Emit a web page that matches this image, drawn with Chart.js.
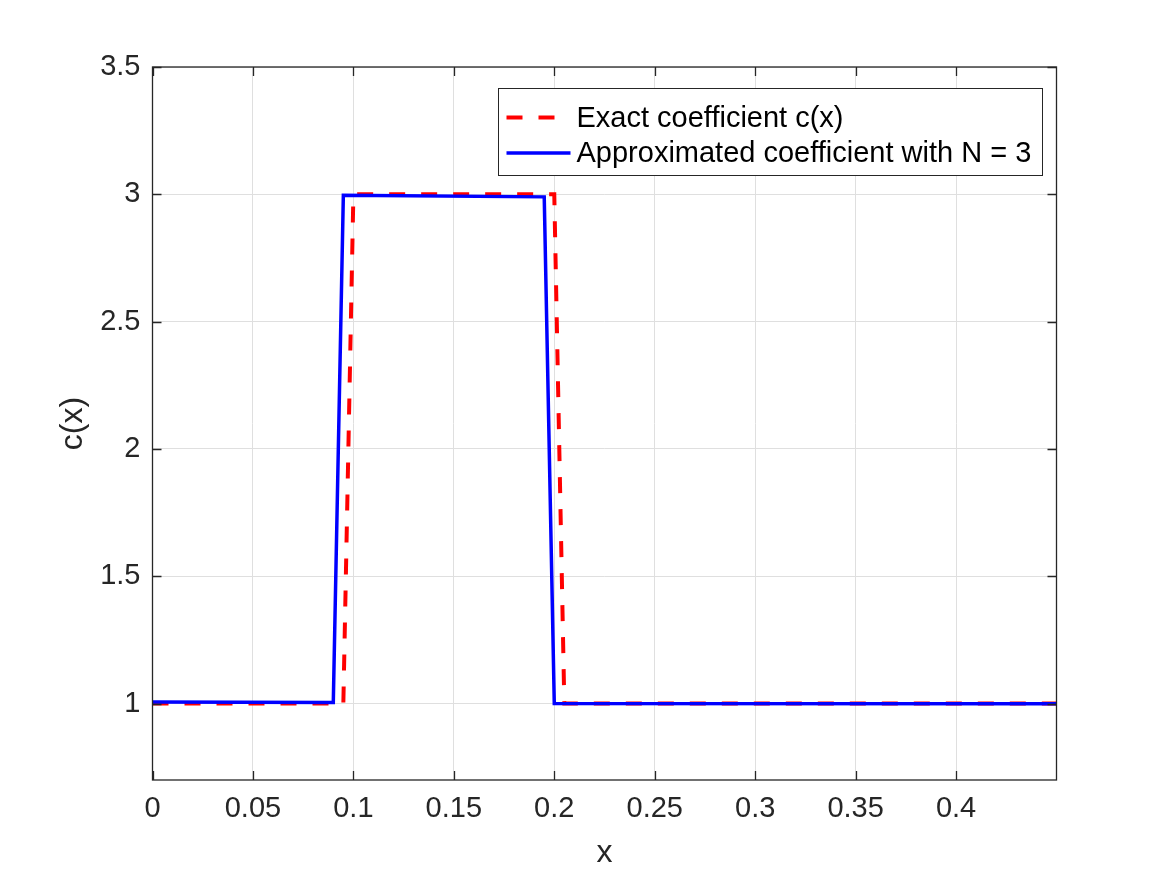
<!DOCTYPE html>
<html><head><meta charset="utf-8">
<script src="https://cdn.jsdelivr.net/npm/chart.js@4.4.1/dist/chart.umd.min.js"></script>
<style>html,body{margin:0;padding:0;background:#fff;overflow:hidden}#wrap{width:1167px;height:875px}</style>
</head><body><div id="wrap"><canvas id="c" width="1167" height="875"></canvas></div>
<script>
// ---- data ----
const xExact = [0, 0.095, 0.1, 0.2, 0.205, 0.45];
const yExact = [1, 1, 3, 3, 1, 1];
const xApprox = [0, 0.09, 0.095, 0.195, 0.2, 0.45];
const yApprox = [1.006, 1.004, 2.996, 2.99, 1.0, 0.999];
const xTicks = [0, 0.05, 0.1, 0.15, 0.2, 0.25, 0.3, 0.35, 0.4];
const yTicks = [1, 1.5, 2, 2.5, 3, 3.5];
const xTickLabels = ['0', '0.05', '0.1', '0.15', '0.2', '0.25', '0.3', '0.35', '0.4'];
const yTickLabels = ['1', '1.5', '2', '2.5', '3', '3.5'];
const seriesLabels = ['Exact coefficient c(x)', 'Approximated coefficient with N = 3'];
const xTitle = 'x';
const yTitle = 'c(x)';

const FONT = '"Liberation Sans", Arial, Helvetica, sans-serif';
const AXC = '#262626';

const framePlugin = {
  id: 'frame',
  afterDatasetsDraw(chart) {
    const {ctx, chartArea: a, scales} = chart;
    ctx.save();
    ctx.strokeStyle = AXC;
    ctx.lineWidth = 1.3;
    ctx.beginPath();
    const tl = 9;
    scales.x.ticks.forEach(t => {
      const px = Math.round(scales.x.getPixelForValue(t.value)) + 0.5;
      ctx.moveTo(px, a.bottom); ctx.lineTo(px, a.bottom - tl);
      ctx.moveTo(px, a.top); ctx.lineTo(px, a.top + tl);
    });
    scales.y.ticks.forEach(t => {
      const py = Math.round(scales.y.getPixelForValue(t.value)) + 0.5;
      ctx.moveTo(a.left, py); ctx.lineTo(a.left + tl, py);
      ctx.moveTo(a.right, py); ctx.lineTo(a.right - tl, py);
    });
    ctx.stroke();
    ctx.strokeRect(a.left, a.top, a.right - a.left, a.bottom - a.top);
    ctx.restore();
  }
};

const legendPlugin = {
  id: 'boxLegend',
  afterDatasetsDraw(chart) {
    const {ctx} = chart;
    const x0 = 498.5, y0 = 88.5, w = 544, h = 87;
    ctx.save();
    ctx.fillStyle = '#fff';
    ctx.fillRect(x0, y0, w, h);
    ctx.strokeStyle = AXC;
    ctx.lineWidth = 1;
    ctx.strokeRect(x0, y0, w, h);
    ctx.font = '29px ' + FONT;
    ctx.textBaseline = 'middle';
    ctx.fillStyle = '#000';
    chart.data.datasets.forEach((ds, i) => {
      const cy = y0 + 29 + i * 35.5;
      ctx.save();
      ctx.strokeStyle = ds.borderColor;
      ctx.lineWidth = ds.borderWidth;
      ctx.setLineDash(ds.borderDash || []);
      ctx.beginPath();
      ctx.moveTo(x0 + 8, cy); ctx.lineTo(x0 + 72, cy);
      ctx.stroke();
      ctx.restore();
      ctx.fillText(ds.label, x0 + 78, cy + 1);
    });
    ctx.restore();
  }
};

new Chart(document.getElementById('c'), {
  type: 'line',
  data: {
    datasets: [
      {
        label: seriesLabels[0],
        data: xExact.map((x, i) => ({x, y: yExact[i]})),
        borderColor: '#ff0000', borderWidth: 4, borderDash: [16, 16],
        pointRadius: 0, fill: false, tension: 0, order: 2
      },
      {
        label: seriesLabels[1],
        data: xApprox.map((x, i) => ({x, y: yApprox[i]})),
        borderColor: '#0000ff', borderWidth: 3.5,
        pointRadius: 0, fill: false, tension: 0, order: 1
      }
    ]
  },
  options: {
    responsive: false,
    animation: false,
    devicePixelRatio: 1,
    layout: {padding: {left: 0, top: 67, right: 110.5, bottom: 0}},
    plugins: {legend: {display: false}, tooltip: {enabled: false}},
    scales: {
      x: {
        type: 'linear', min: 0, max: 0.45,
        afterBuildTicks: s => { s.ticks = xTicks.map(v => ({value: v})); },
        afterFit: s => { s.height = 95; },
        ticks: {
          font: {family: FONT, size: 29}, color: AXC, padding: 12, maxRotation: 0,
          callback: (v) => { const i = xTicks.indexOf(v); return i >= 0 ? xTickLabels[i] : ''; }
        },
        grid: {color: '#dfdfdf', lineWidth: 1, drawTicks: false},
        border: {display: false},
        title: {display: true, text: xTitle, font: {family: FONT, size: 32}, color: AXC, padding: {top: 0, bottom: 3}}
      },
      y: {
        type: 'linear', min: 0.7, max: 3.5,
        afterBuildTicks: s => { s.ticks = yTicks.map(v => ({value: v})); },
        afterFit: s => { s.width = 152.5; },
        ticks: {
          font: {family: FONT, size: 29}, color: AXC, padding: 12,
          callback: (v) => { const i = yTicks.indexOf(v); return i >= 0 ? yTickLabels[i] : ''; }
        },
        grid: {color: '#dfdfdf', lineWidth: 1, drawTicks: false},
        border: {display: false},
        title: {display: true, text: yTitle, font: {family: FONT, size: 32}, color: AXC, padding: {top: 54, bottom: 0}}
      }
    }
  },
  plugins: [framePlugin, legendPlugin]
});
</script>
</body></html>
